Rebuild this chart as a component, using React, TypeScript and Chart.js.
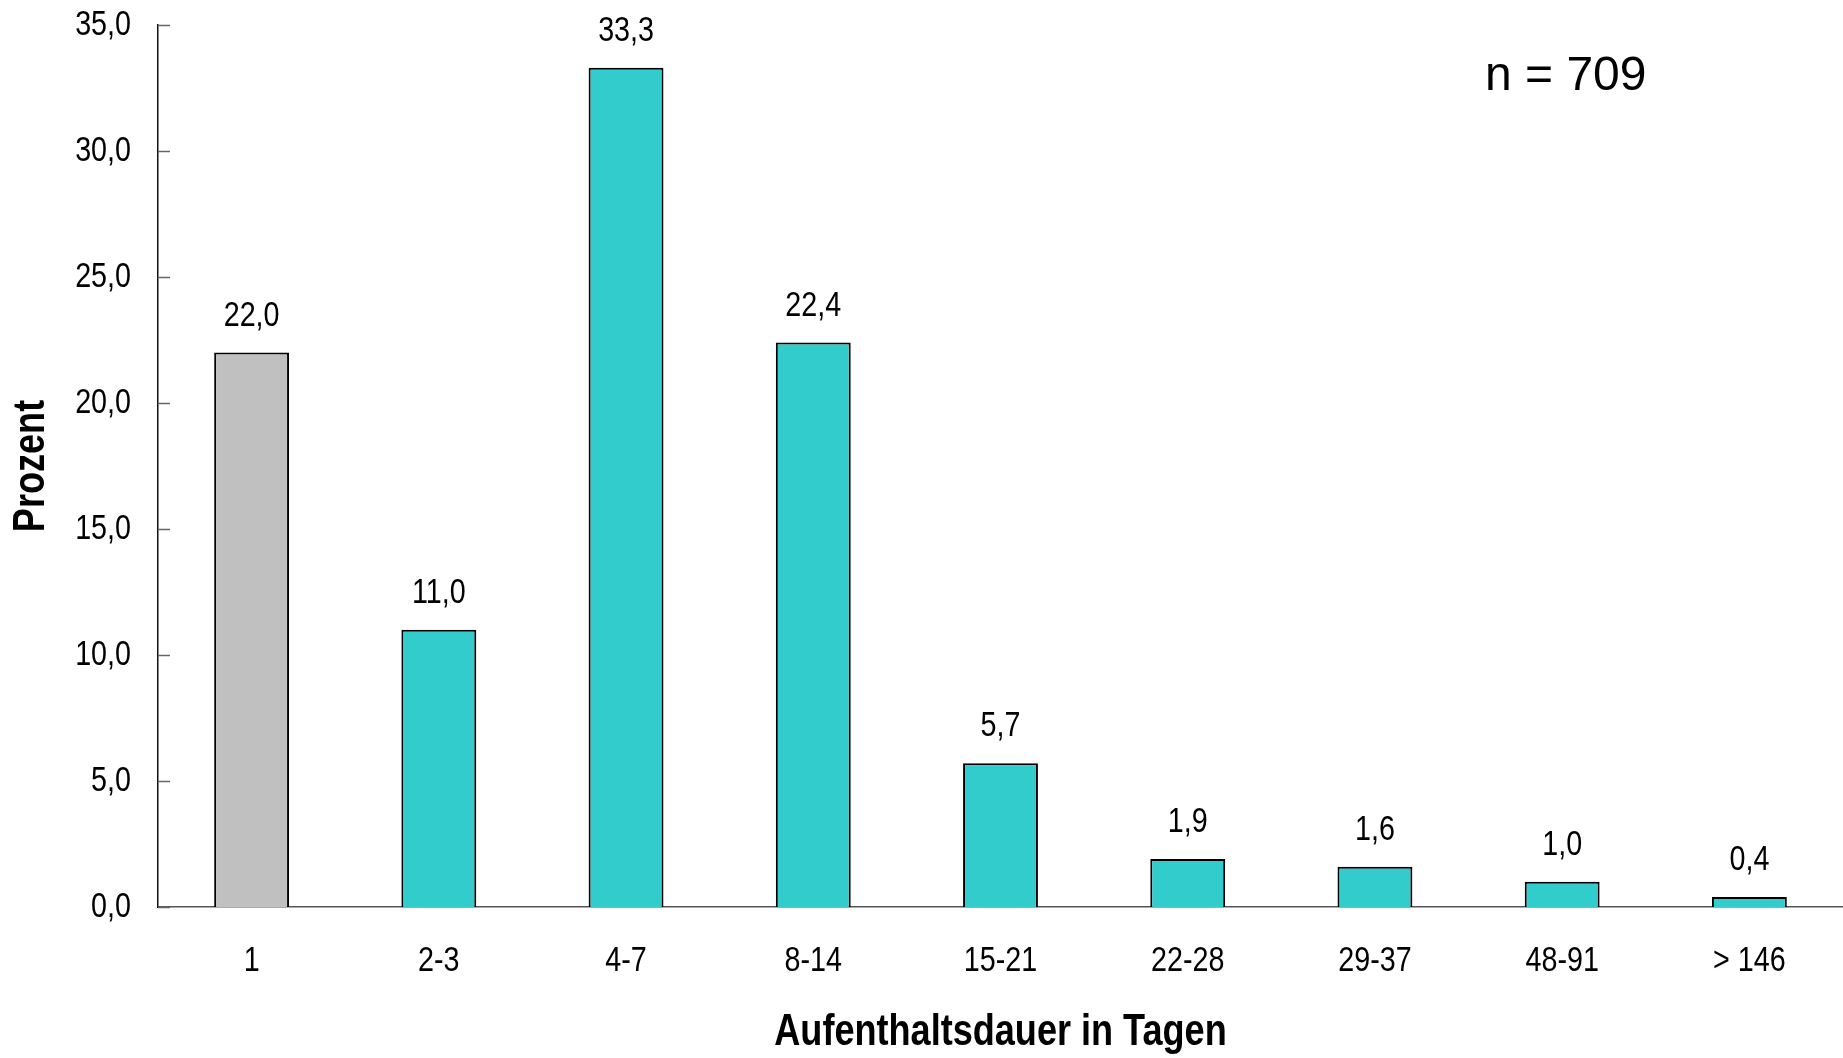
import React, { useEffect, useRef } from "react";
import { Chart, registerables } from "chart.js";

Chart.register(...registerables);

const categories = ["1", "2-3", "4-7", "8-14", "15-21", "22-28", "29-37", "48-91", "> 146"];
const percentValues = [22.0, 11.0, 33.3, 22.4, 5.7, 1.9, 1.6, 1.0, 0.4];
const barColors = ["#C0C0C0", "#33CCCC", "#33CCCC", "#33CCCC", "#33CCCC", "#33CCCC", "#33CCCC", "#33CCCC", "#33CCCC"];
const yTickValues = [0, 5, 10, 15, 20, 25, 30, 35];
const sampleLabel = "n = 709";
const xTitle = "Aufenthaltsdauer in Tagen";
const yTitle = "Prozent";

const SANS = "'Liberation Sans', Arial, sans-serif";
const NARROW_SCALE = 0.82;
const fmt = (v: number) => v.toFixed(1).replace(".", ",");

// Draw all chart text horizontally condensed (Arial Narrow look) around its anchor point.
const narrowTextPlugin = {
  id: "narrowText",
  beforeInit(chart: any) {
    const ctx = chart.ctx;
    if (ctx.__narrowPatched) return;
    const orig = ctx.fillText.bind(ctx);
    ctx.__narrowPatched = true;
    ctx.__wide = false;
    ctx.fillText = (text: string, x: number, y: number, maxWidth?: number) => {
      if (ctx.__wide) {
        return maxWidth === undefined ? orig(text, x, y) : orig(text, x, y, maxWidth);
      }
      ctx.save();
      ctx.translate(x, y);
      ctx.scale(NARROW_SCALE, 1);
      if (maxWidth === undefined) orig(text, 0, 0);
      else orig(text, 0, 0, maxWidth / NARROW_SCALE);
      ctx.restore();
    };
  },
};

const overlayPlugin = {
  id: "overlay",
  afterDatasetsDraw(chart: any) {
    const ctx = chart.ctx;
    const meta = chart.getDatasetMeta(0);
    ctx.save();
    ctx.fillStyle = "#000";
    ctx.font = `35px ${SANS}`;
    ctx.textAlign = "center";
    ctx.textBaseline = "alphabetic";
    meta.data.forEach((bar: any, i: number) => {
      ctx.fillText(fmt(percentValues[i]), bar.x, bar.y - 27);
    });
    ctx.restore();
  },
  afterDraw(chart: any) {
    const ctx = chart.ctx;
    const y = chart.scales.y;
    const left = chart.chartArea.left;
    ctx.save();
    ctx.strokeStyle = "#666";
    ctx.lineWidth = 1.5;
    yTickValues.forEach((v) => {
      const py = Math.round(y.getPixelForValue(v)) + 0.5;
      ctx.beginPath();
      ctx.moveTo(left, py);
      ctx.lineTo(left + 12, py);
      ctx.stroke();
    });
    ctx.fillStyle = "#000";
    ctx.font = `48px ${SANS}`;
    ctx.textAlign = "left";
    ctx.textBaseline = "alphabetic";
    ctx.__wide = true;
    ctx.fillText(sampleLabel, 1485, 90);
    ctx.__wide = false;
    ctx.restore();
  },
};

export default function App() {
  const ref = useRef<HTMLCanvasElement | null>(null);
  useEffect(() => {
    if (!ref.current) return;
    const chart = new Chart(ref.current, {
      type: "bar",
      data: {
        labels: categories,
        datasets: [
          {
            data: percentValues,
            backgroundColor: barColors,
            borderColor: "#000",
            borderWidth: 2,
            categoryPercentage: 1,
            barPercentage: 0.4,
          },
        ],
      },
      options: {
        animation: false,
        responsive: false,
        devicePixelRatio: 1,
        layout: { padding: { top: 25, right: 0, left: 0, bottom: 0 } },
        plugins: { legend: { display: false }, tooltip: { enabled: false } },
        scales: {
          x: {
            grid: { display: false, drawTicks: false },
            border: { display: true, color: "#555", width: 1.5 },
            ticks: { color: "#000", font: { family: SANS, size: 35 }, padding: 33, maxRotation: 0, autoSkip: false },
            title: {
              display: true,
              text: xTitle,
              color: "#000",
              font: { family: SANS, size: 44, weight: "bold", lineHeight: 1.0 },
              padding: { top: 0, bottom: 3 },
            },
            afterFit: (s: any) => {
              s.height = 151;
              s.paddingLeft = 0;
              s.paddingRight = 0;
            },
          },
          y: {
            min: 0,
            max: 35,
            grid: { display: false, drawTicks: false },
            border: { display: true, color: "#111", width: 1.5 },
            ticks: {
              stepSize: 5,
              color: "#000",
              font: { family: SANS, size: 35 },
              padding: 27,
              callback: (v: any) => fmt(Number(v)),
            },
            title: {
              display: true,
              text: yTitle,
              color: "#000",
              font: { family: SANS, size: 44, weight: "bold", lineHeight: 1.0 },
              padding: { top: 10, bottom: 0 },
            },
            afterFit: (s: any) => {
              s.width = 158;
              s.paddingTop = 0;
              s.paddingBottom = 0;
            },
          },
        },
      },
      plugins: [narrowTextPlugin, overlayPlugin],
    });
    return () => chart.destroy();
  }, []);
  return (
    <div style={{ position: "absolute", left: 0, top: 0, width: 1843, height: 1058, background: "#fff" }}>
      <canvas ref={ref} width={1843} height={1058} style={{ display: "block" }} />
    </div>
  );
}
